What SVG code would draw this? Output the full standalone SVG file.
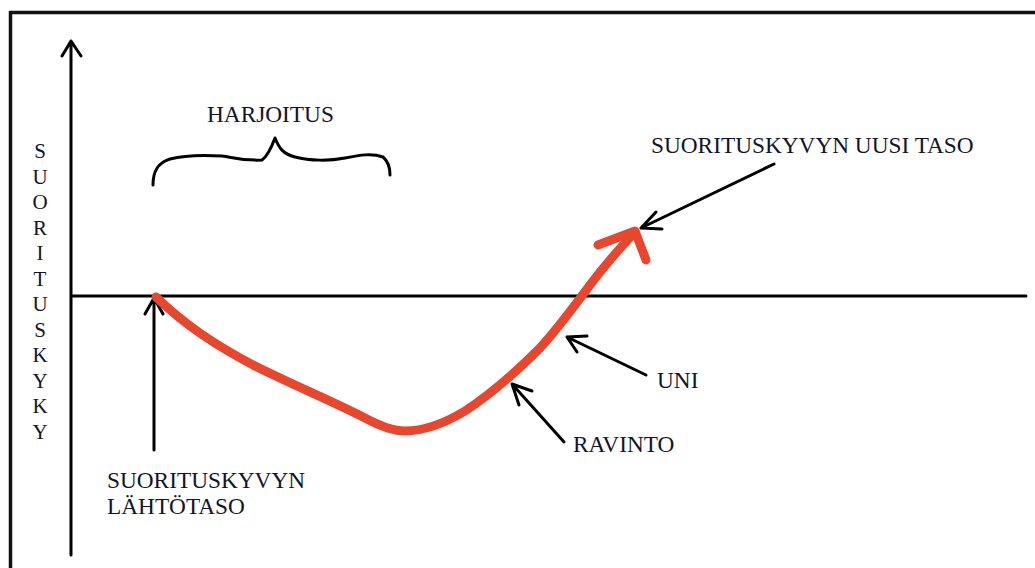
<svg xmlns="http://www.w3.org/2000/svg" width="1035" height="568" viewBox="0 0 1035 568">
<style>
.t{font-family:"Liberation Serif","Times New Roman",serif;font-size:23.3px;fill:#141428}
.v{font-family:"Liberation Serif","Times New Roman",serif;font-size:21px;fill:#141428;text-anchor:middle}
.k{fill:none;stroke:#000;stroke-width:3;stroke-linecap:round;stroke-linejoin:round}
.r{fill:none;stroke:#e8472f;stroke-width:9;stroke-linecap:round;stroke-linejoin:round}
</style>
<rect width="1035" height="568" fill="#fff"/>
<g id="frame">
<path d="M10.5 568 V12.5 H1035" fill="none" stroke="#111" stroke-width="3.5"/>
</g>
<g id="connectors">
<path class="k" d="M71 555 V41 M62 56 L71 41 L81 56"/>
<path class="k" d="M72 296 H1026"/>
<path class="k" d="M154 450 V298 M145 314 L154 298 L163 314"/>
<path class="r" d="M156 297 C185 325 215 345 255 366 C295 386 330 400 365 418 C380 426 392 431 405 431 C425 431 445 423 465 411 C490 395 515 373 540 348 C560 326 575 305 590 285 C605 265 620 248 635 232"/>
<path class="r" d="M598 245 L635 231 L646 260"/>
<path class="k" d="M774 164 L641 228 M656 212 L641 228 L662 229" stroke-width="2.5"/>
<path class="k" d="M646 375 L567 337 M577 352 L567 337 L587 336" stroke-width="2.5"/>
<path class="k" d="M564 442 L512 384 M519 405 L512 384 L532 391" stroke-width="2.5"/>
</g>
<g id="brace">
<path class="k" d="M153 185 C153 172 157 163 170 159 C185 155 205 155 222 156 C232 157 240 161 262 160 C268 156 272 146 275 138 C279 148 283 154 295 157 C310 161 330 161 345 158 C360 155 372 153 383 157 C389 162 390 168 390 175" stroke-width="2.8"/>
</g>
<g id="axis-label">
<text class="v" x="40" y="158">S</text>
<text class="v" x="40" y="183.5">U</text>
<text class="v" x="40" y="209">O</text>
<text class="v" x="40" y="234.5">R</text>
<text class="v" x="40" y="260">I</text>
<text class="v" x="40" y="285.5">T</text>
<text class="v" x="40" y="311">U</text>
<text class="v" x="40" y="336.5">S</text>
<text class="v" x="40" y="362">K</text>
<text class="v" x="40" y="387.5">Y</text>
<text class="v" x="40" y="413">K</text>
<text class="v" x="40" y="438.5">Y</text>
</g>
<g id="harjoitus"><text class="t" x="207" y="122">HARJOITUS</text></g>
<g id="uusi-taso"><text class="t" x="651" y="153">SUORITUSKYVYN UUSI TASO</text></g>
<g id="lahtotaso"><text class="t" x="107" y="488">SUORITUSKYVYN</text><text class="t" x="107" y="514">LÄHTÖTASO</text></g>
<g id="uni"><text class="t" x="657" y="388">UNI</text></g>
<g id="ravinto"><text class="t" x="573" y="452">RAVINTO</text></g>
</svg>
